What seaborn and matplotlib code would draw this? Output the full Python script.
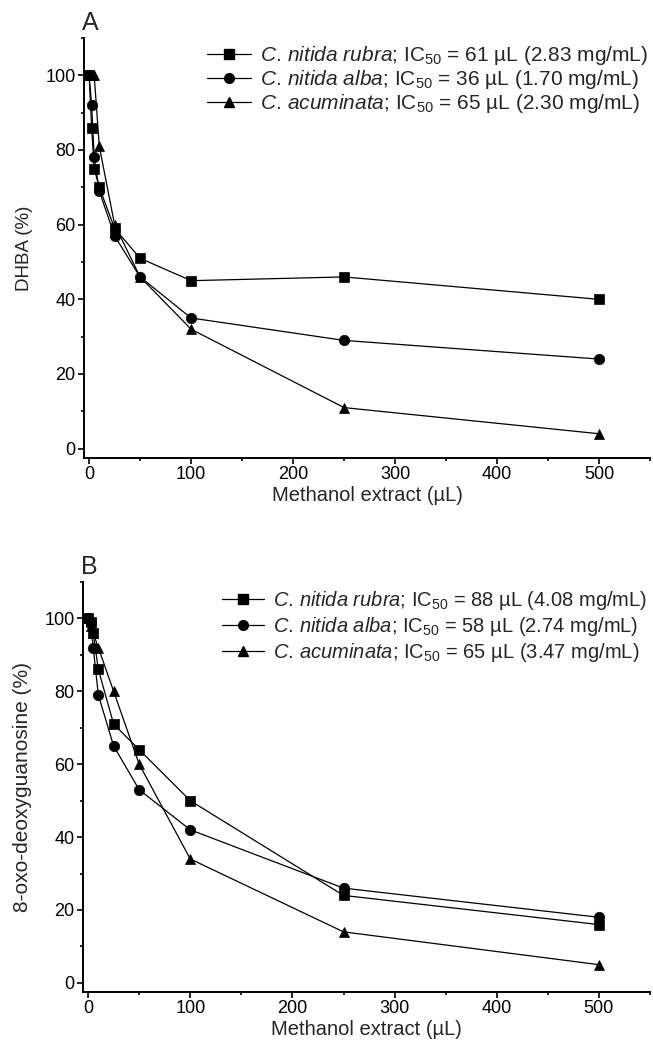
import numpy as np
import pandas as pd
import matplotlib
matplotlib.use("Agg")
import matplotlib.pyplot as plt
import seaborn as sns
from matplotlib.lines import Line2D
from matplotlib.ticker import MultipleLocator

# ---- data ----
x_ul = [0, 2.5, 5, 10, 25, 50, 100, 250, 500]
species = ["C. nitida rubra", "C. nitida alba", "C. acuminata"]

a_rubra = [100, 86, 75, 70, 59, 51, 45, 46, 40]
a_alba = [100, 92, 78, 69, 57, 46, 35, 29, 24]
a_acuminata = [100, 100, 100, 81, 60, 46, 32, 11, 4]
ic50_a = ["61 µL (2.83 mg/mL)", "36 µL (1.70 mg/mL)", "65 µL (2.30 mg/mL)"]

b_rubra = [100, 99, 96, 86, 71, 64, 50, 24, 16]
b_alba = [100, 99, 92, 79, 65, 53, 42, 26, 18]
b_acuminata = [100, 98, 96, 92, 80, 60, 34, 14, 5]
ic50_b = ["88 µL (4.08 mg/mL)", "58 µL (2.74 mg/mL)", "65 µL (3.47 mg/mL)"]

x_ticks = [0, 100, 200, 300, 400, 500]
y_ticks = [0, 20, 40, 60, 80, 100]

markers = ["s", "o", "^"]

sns.set_theme(style="ticks")
plt.rcParams["font.family"] = ["Liberation Sans", "DejaVu Sans"]
plt.rcParams["mathtext.fontset"] = "custom"
plt.rcParams["mathtext.rm"] = "Liberation Sans"
plt.rcParams["mathtext.it"] = "Liberation Sans:italic"
plt.rcParams["mathtext.bf"] = "Liberation Sans:bold"

fig = plt.figure(figsize=(6.53, 10.53), dpi=100)
W, H = 653, 1053
axA = fig.add_axes([84 / W, 1 - 458 / H, 566 / W, 420 / H])
axB = fig.add_axes([83 / W, 1 - 992 / H, 567 / W, 410 / H])


def make_df(vals):
    rows = []
    for name, v in zip(species, vals):
        for xx, yy in zip(x_ul, v):
            rows.append({"x": xx, "y": yy, "series": name})
    return pd.DataFrame(rows)


def italic(name):
    first, rest = name.split(" ", 1)
    return (r"$\mathit{" + first + r"}\,\mathit{"
            + rest.replace(" ", r"\ ") + "}$")


def draw(ax, vals, ic50, ylabel, ylsize, letter, legend_anchor, legsize,
         lspace):
    df = make_df(vals)
    sns.lineplot(data=df, x="x", y="y", style="series", markers=markers,
                 dashes=False, color="black", ax=ax, legend=False,
                 linewidth=0.9, markersize=7.5, markeredgecolor="black",
                 markeredgewidth=0.5, sort=False)
    ax.set_xlim(-5, 550)
    ax.set_ylim(-2.5, 110)
    ax.set_xticks(x_ticks)
    ax.set_yticks(y_ticks)
    ax.xaxis.set_minor_locator(MultipleLocator(50))
    ax.yaxis.set_minor_locator(MultipleLocator(10))
    ax.tick_params(which="major", direction="out", length=4.5, width=1.2,
                   labelsize=13, pad=1.5, color="black", labelcolor="black")
    ax.tick_params(which="minor", direction="out", length=2.5, width=1.2,
                   color="black")
    for s in ["left", "bottom"]:
        ax.spines[s].set_linewidth(1.4)
        ax.spines[s].set_color("black")
    sns.despine(ax=ax)
    ax.set_xlabel("Methanol extract (µL)", fontsize=14.5, labelpad=2)
    ax.set_ylabel(ylabel, fontsize=ylsize, labelpad=9)
    handles = []
    for m, name, ic in zip(markers, species, ic50):
        lab = italic(name) + r"; IC$_{50}$ = " + ic
        handles.append(Line2D([], [], color="black", marker=m, markersize=7,
                              linewidth=0.9, label=lab))
    ax.legend(handles=handles, loc="upper right", bbox_to_anchor=legend_anchor,
              frameon=False, fontsize=legsize, handlelength=2.1,
              handletextpad=0.45, labelspacing=lspace, borderaxespad=0)
    ax.text(-0.003, 1.008, letter, transform=ax.transAxes, fontsize=18,
            ha="left", va="bottom")


draw(axA, [a_rubra, a_alba, a_acuminata], ic50_a, "DHBA (%)", 13.5, "A",
     (1.012, 1.006), 15, 0.06)
draw(axB, [b_rubra, b_alba, b_acuminata], ic50_b, "8-oxo-deoxyguanosine (%)",
     15, "B", (1.01, 1.002), 14.5, 0.15)

fig.savefig("out.png", dpi=100, facecolor="white")
